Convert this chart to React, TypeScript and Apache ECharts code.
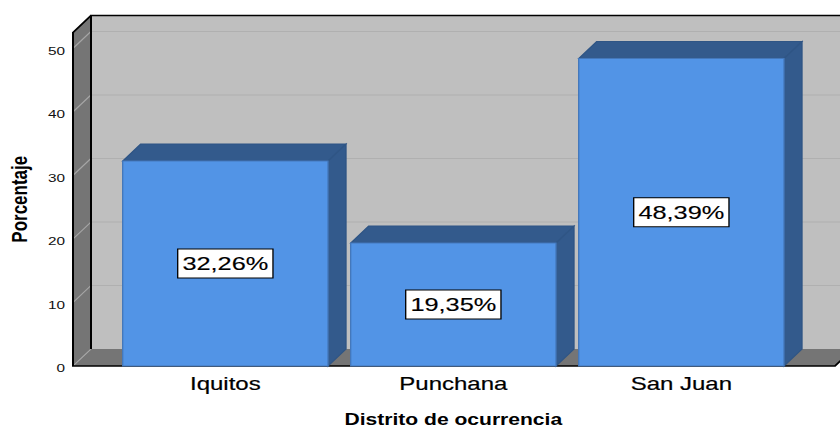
import React, { useEffect, useRef } from "react";
import * as echarts from "echarts";

const categories = ["Iquitos", "Punchana", "San Juan"];
const values = [32.26, 19.35, 48.39];
const valueLabels = ["32,26%", "19,35%", "48,39%"];
const yTicks = [0, 10, 20, 30, 40, 50];
const yMax = 52.5;

// The reference is a horizontally stretched picture: the chart is drawn narrower and widened with CSS.
const STRETCH = 4 / 3;
const CHART_W = 630;
const CHART_H = 427;
const DX = 13.5;
const DY = -17;
const BAR_W = 154;
const LEFT_EXT = 28.75;
const RIGHT_EXT = 29.75;
const FONT = '"Liberation Sans", Arial, sans-serif';

function wallsItem(params: any, api: any) {
  const left = params.coordSys.x - LEFT_EXT;
  const right = params.coordSys.x + params.coordSys.width + RIGHT_EXT;
  const y0 = api.coord([0, 0])[1];
  const yT = api.coord([0, yMax])[1];
  const children: any[] = [
    { type: "polygon", shape: { points: [[left + DX, yT + DY], [right + DX, yT + DY], [right + DX, y0 + DY], [left + DX, y0 + DY]] }, style: { fill: "#bfbfbf" } },
    { type: "polygon", shape: { points: [[left, yT], [left + DX, yT + DY], [left + DX, y0 + DY], [left, y0]] }, style: { fill: "#757575" } },
    { type: "polygon", shape: { points: [[left, y0], [left + DX, y0 + DY], [right + DX, y0 + DY], [right, y0]] }, style: { fill: "#757575" } },
  ];
  yTicks.forEach((t) => {
    const y = api.coord([0, t])[1];
    children.push({ type: "polyline", shape: { points: [[left, y], [left + DX, y + DY]] }, style: { stroke: "#a6a6a6", lineWidth: 1, fill: "none" } });
    if (t > 0) children.push({ type: "line", shape: { x1: left + DX, y1: y + DY, x2: right + DX, y2: y + DY }, style: { stroke: "#b0b0b0", lineWidth: 1 } });
  });
  children.push(
    { type: "polyline", shape: { points: [[left + DX, y0 + DY], [left + DX, yT + DY], [right + DX, yT + DY]] }, style: { stroke: "#000", lineWidth: 1.5, fill: "none" } },
    { type: "polyline", shape: { points: [[left + DX, yT + DY], [left, yT], [left, y0], [right, y0], [right + DX, y0 + DY]] }, style: { stroke: "#000", lineWidth: 1.5, fill: "none" } },
  );
  return { type: "group", children };
}

function barItem(params: any, api: any) {
  const idx = api.value(0);
  const v = api.value(1);
  const [cx, yTop] = api.coord([idx, v]);
  const y0 = api.coord([idx, 0])[1];
  const l = cx - BAR_W / 2;
  const r = cx + BAR_W / 2;
  const dark = "#335a8c";
  const edge = "#2f5585";
  return {
    type: "group",
    children: [
      { type: "polygon", shape: { points: [[l, yTop], [l + DX, yTop + DY], [r + DX, yTop + DY], [r, yTop]] }, style: { fill: dark, stroke: edge, lineWidth: 1 } },
      { type: "polygon", shape: { points: [[r, yTop], [r + DX, yTop + DY], [r + DX, y0 + DY], [r, y0]] }, style: { fill: dark, stroke: edge, lineWidth: 1 } },
      { type: "rect", shape: { x: l, y: yTop, width: r - l, height: y0 - yTop }, style: { fill: "#5294e6", stroke: "#4478bb", lineWidth: 1 } },
      {
        type: "text",
        x: cx,
        y: (yTop + y0) / 2,
        style: {
          text: valueLabels[params.dataIndex],
          x: 0,
          y: 0,
          align: "center",
          verticalAlign: "middle",
          font: `19px ${FONT}`,
          fill: "#000",
          stroke: "#000",
          lineWidth: 0.15,
          backgroundColor: "#fff",
          borderColor: "#000",
          borderWidth: 1,
          padding: [5, 3, 4, 3],
        },
      },
    ],
  };
}

export default function App() {
  const ref = useRef<HTMLDivElement>(null);
  useEffect(() => {
    const chart = echarts.init(ref.current!, undefined, { renderer: "svg" });
    chart.setOption({
      animation: false,
      backgroundColor: "#ffffff",
      grid: { left: 83.5, width: 513, top: 32.5, height: 333.5, outerBoundsMode: "none" },
      xAxis: {
        type: "category",
        data: categories,
        axisLine: { show: false },
        axisTick: { show: false },
        axisLabel: { fontFamily: FONT, fontSize: 18, color: "#000", margin: 9, textBorderColor: "#000", textBorderWidth: 0.2 },
        name: "Distrito de ocurrencia",
        nameLocation: "middle",
        nameGap: 45,
        nameTextStyle: { fontFamily: FONT, fontSize: 15.8, fontWeight: "bold", color: "#000" },
      },
      yAxis: {
        type: "value",
        min: 0,
        max: yMax,
        interval: 10,
        splitLine: { show: false },
        axisLine: { show: false },
        axisTick: { show: false },
        axisLabel: {
          margin: 34.75,
          formatter: (v: number) => (yTicks.includes(v) ? `{t|${v}}` : ""),
          rich: { t: { fontFamily: FONT, fontSize: 11.5, color: "#111", padding: [5, 0, 0, 0] } },
        },
        name: "Porcentaje",
        nameLocation: "middle",
        nameGap: 60.5,
        nameTextStyle: { fontFamily: FONT, fontSize: 17, fontWeight: "bold", color: "#000" },
      },
      series: [
        { type: "custom", silent: true, clip: false, z: 1, data: [[0, 0]], renderItem: wallsItem },
        { type: "custom", silent: true, clip: false, z: 2, data: values.map((v, i) => [i, v]), encode: { x: 0, y: 1 }, renderItem: barItem },
      ],
    });
    return () => chart.dispose();
  }, []);
  return (
    <div style={{ position: "fixed", left: 0, top: 0, width: 840, height: CHART_H, overflow: "hidden", background: "#fff" }}>
      <div ref={ref} style={{ width: CHART_W, height: CHART_H, transform: `scaleX(${STRETCH})`, transformOrigin: "0 0" }} />
    </div>
  );
}
